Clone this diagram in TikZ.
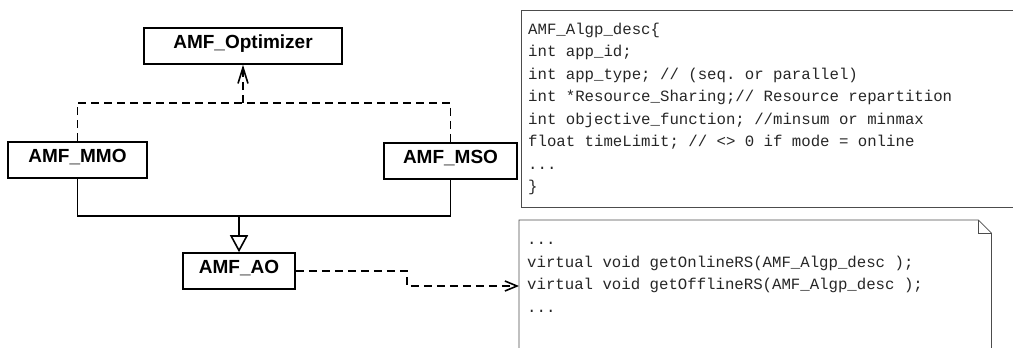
\documentclass[tikz,border=0pt]{standalone}
\usepackage{fontspec}
\usetikzlibrary{arrows.meta}
\newfontfamily\labelfont{Liberation Sans}
\newfontfamily\codefont{Liberation Mono}
\newcommand\codesize{\fontsize{15.7}{22.5}\selectfont}
\pgfdeclarelayer{bg}
\pgfsetlayers{bg,main}
\tikzset{
    cls/.style={rectangle, draw, line width=1.6pt, inner sep=0pt, minimum height=36pt,
        text height=13.6pt, text depth=8.4pt, font=\labelfont\bfseries\fontsize{19}{22}\selectfont}
}
\tikzset{
    code/.style={rectangle, inner xsep=8pt, inner ysep=0pt, align=left, text=black!85,
        font=\codefont\codesize,
        execute at begin node={\spaceskip=0.6em\xspaceskip=0.6em\relax}}
}
\tikzset{dep/.style={line width=1.6pt, dash pattern=on 8pt off 5pt}}
\tikzset{gen/.style={line width=1.6pt}}
\tikzset{paper/.style={line width=0.8pt, draw=black!70}}
\begin{document}
\begin{tikzpicture}[x=1pt, y=-1pt]
        \useasboundingbox (0,0) rectangle (1013,348);
        \node (opt) [cls, minimum width=198pt] at (243,46) {AMF\_Optimizer};
        \node (mmo) [cls, minimum width=139pt] at (77.5,160) {AMF\_MMO};
        \node (mso) [cls, minimum width=133pt] at (450.5,161) {AMF\_MSO};
        \node (ao) [cls, minimum width=112pt] at (239,271) {AMF\_AO};
        \node (desc) [code, overlay, anchor=north west, text width=500pt, inner xsep=7pt,
            minimum height=197pt] at (521,10) {AMF\_Algp\_desc\{\\
int app\_id;\\
int app\_type; // (seq. or parallel)\\
int *Resource\_Sharing;// Resource repartition\\
int objective\_function; //minsum or minmax\\
float timeLimit; // <> 0 if mode = online\\
...\\
\}};
        \node (note) [code, anchor=north west, text width=456pt, inner ysep=9pt] at (519,220) {\strut...\\
virtual void getOnlineRS(AMF\_Algp\_desc );\\
virtual void getOfflineRS(AMF\_Algp\_desc );\\
...};
        \coordinate (j1) at (243,103);
        \coordinate (j2) at (239,216);
        \coordinate (k1) at (407,286);
        % both papers run off the page
        \draw[paper, overlay] (desc.north east) -- (desc.north west) -- (desc.south west) -- (desc.south east);
        \draw[paper, overlay] ([yshift=-150pt]note.north west) -- (note.north west)
            -- ([xshift=-13pt]note.north east) -- ([yshift=-13pt]note.north east)
            -- ([yshift=-150pt]note.north east);
        \draw[paper] ([xshift=-13pt]note.north east) |- ([yshift=-13pt]note.north east);
        \begin{pgfonlayer}{bg}
                \draw[dep] (mmo.north) |- (j1) -| (mso.north);
                \draw[dep, -{Straight Barb[length=16pt, width=10pt]}] (j1) -- (opt.south);
                \draw[gen] (mmo.south) |- (j2) -| (mso.south);
                \draw[gen, -{Triangle[open, length=17pt, width=18pt]}] (j2) -- (ao.north);
                \draw[dep, -{Straight Barb[length=12pt, width=10pt]}] (ao.east) -| (k1) -- (k1 -| note.west);
        \end{pgfonlayer}
\end{tikzpicture}
\end{document}
